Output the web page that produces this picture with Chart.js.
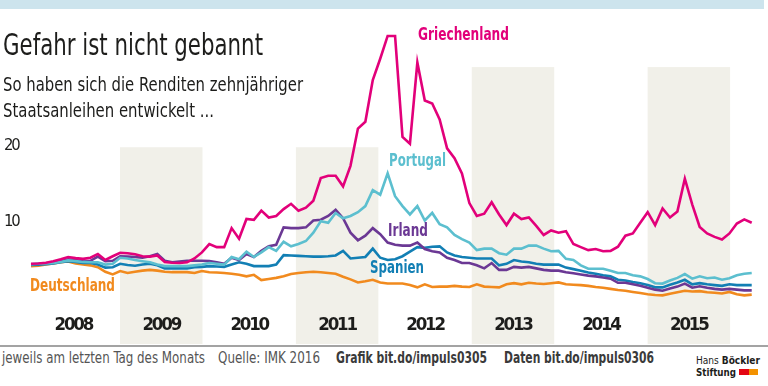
<!DOCTYPE html>
<html><head><meta charset="utf-8">
<script src="https://cdn.jsdelivr.net/npm/chart.js@4.4.1/dist/chart.umd.min.js"></script>
<style>
html,body{margin:0;padding:0;background:#fff;}
#wrap{position:relative;width:768px;height:386px;overflow:hidden;background:#fff;}
#chart{position:absolute;left:0;top:0;}
#topbar{position:absolute;left:0;top:0;width:764px;height:9px;background:#cde4ed;}
#sep{position:absolute;left:0;top:345px;width:768px;height:2px;background:#a3a3a3;}
.t{position:absolute;white-space:nowrap;line-height:1;transform-origin:0 0;margin:0;padding:0;}
.sq{position:absolute;top:369px;height:6px;width:10px;}
</style></head>
<body><div id="wrap">
<canvas id="chart" width="768" height="345"></canvas>
<div id="topbar"></div>
<div id="sep"></div>

<div class="t" data-x="3" data-b="55" data-w="260" data-s="31" data-wt="400" style="color:#1d1d1b">Gefahr ist nicht gebannt</div>
<div class="t" data-x="3" data-b="91" data-w="300" data-s="20" data-wt="400" style="color:#1d1d1b">So haben sich die Renditen zehnjähriger</div>
<div class="t" data-x="3" data-b="117" data-w="211" data-s="20" data-wt="400" style="color:#1d1d1b">Staatsanleihen entwickelt ...</div>

<div class="t" data-x="418" data-b="40" data-w="91" data-s="18" data-wt="700" style="color:#e2007a">Griechenland</div>
<div class="t" data-x="389" data-b="166.5" data-w="57" data-s="18" data-wt="700" style="color:#5cbfcf">Portugal</div>
<div class="t" data-x="388" data-b="236.5" data-w="40" data-s="18" data-wt="700" style="color:#6b3894">Irland</div>
<div class="t" data-x="370" data-b="273.5" data-w="54" data-s="18" data-wt="700" style="color:#127fb4">Spanien</div>
<div class="t" data-x="30" data-b="291.5" data-w="85" data-s="18" data-wt="700" style="color:#f18a1e">Deutschland</div>

<div class="t" data-x="2" data-b="363.5" data-w="203" data-s="15.5" data-wt="400" style="color:#555">jeweils am letzten Tag des Monats</div>
<div class="t" data-x="218" data-b="363.5" data-w="102" data-s="15.5" data-wt="400" style="color:#555">Quelle: IMK 2016</div>
<div class="t" data-x="336" data-b="363.5" data-w="151" data-s="15.5" data-wt="700" style="color:#3a3a3a">Grafik bit.do/impuls0305</div>
<div class="t" data-x="504" data-b="363.5" data-w="150" data-s="15.5" data-wt="700" style="color:#3a3a3a">Daten bit.do/impuls0306</div>

<div class="t" data-x="696" data-b="363.5" data-w="64" data-s="11" data-wt="400" style="color:#1d1d1b">Hans <b>Böckler</b></div>
<div class="t" data-x="696" data-b="375.5" data-w="40" data-s="11" data-wt="700" style="color:#1d1d1b">Stiftung</div>
<div class="sq" style="left:739px;background:#e30613"></div>
<div class="sq" style="left:749px;width:9px;background:#f39200"></div>
</div>
<script>
// ---------- data ----------
const startYear = 2008;                       // first month = Jan 2008, monthly values
const years = ['2008','2009','2010','2011','2012','2013','2014','2015'];
const shadedYears = ['2009','2011','2013','2015'];
const yTickValues = [10, 20];

const griechenland = [4.5,4.55,4.65,4.85,5.1,5.4,5.25,5.15,5.3,5.8,5.0,5.5,
  5.95,5.9,5.75,5.5,5.45,5.6,4.75,4.65,4.6,4.7,5.2,6.0,
  7.1,6.7,6.7,9.2,7.8,10.4,10.3,11.5,10.6,10.8,11.7,12.4,
  11.5,11.9,12.8,15.8,16.1,16.1,14.7,17.4,22.3,23.2,28.7,31.5,
  34.5,34.5,21.2,20.3,31.0,26.0,25.6,23.5,19.7,18.4,16.4,12.5,
  10.8,11.1,12.6,11.0,9.6,11.1,10.4,10.6,9.5,8.3,8.9,8.6,
  8.8,7.1,6.7,6.3,6.45,6.15,6.2,6.75,8.2,8.5,9.9,11.3,
  9.6,11.8,10.6,11.4,15.7,12.3,9.35,8.5,8.05,7.7,8.5,9.8,
  10.35,9.9];
const portugal = [4.45,4.5,4.55,4.6,4.75,4.95,4.85,4.75,4.7,4.7,4.4,4.5,
  5.3,5.2,5.0,4.85,4.7,4.4,4.2,4.2,4.2,4.2,4.3,4.4,
  4.6,4.5,4.4,5.4,5.1,6.1,5.4,6.0,6.7,6.2,7.4,6.8,
  7.1,7.5,8.6,10.1,9.9,11.2,10.5,10.8,11.3,12.1,14.2,13.6,
  16.4,13.4,12.1,11.0,12.1,10.2,11.2,9.7,9.3,8.3,7.75,7.3,
  6.3,6.5,6.5,5.9,5.7,6.5,6.5,6.9,6.9,6.5,6.15,6.2,
  5.15,5.0,4.3,3.85,3.85,3.85,3.6,3.3,3.3,3.0,2.85,2.5,
  1.95,1.9,2.3,2.65,3.15,2.55,2.85,2.6,2.7,2.4,2.6,3.0,
  3.2,3.3];
const irland = [4.45,4.5,4.55,4.7,4.85,5.1,5.0,4.85,4.9,5.45,4.85,4.9,
  5.5,5.45,5.4,5.3,5.5,5.8,4.9,4.7,4.8,4.9,4.9,4.9,
  4.85,4.7,4.5,5.3,5.0,5.8,5.4,6.2,6.8,7.0,9.3,9.2,
  9.2,9.3,10.2,10.3,10.8,11.6,10.5,8.6,7.6,8.2,9.2,8.4,
  7.3,7.0,6.9,6.9,7.3,6.45,6.15,6.0,5.3,5.0,4.6,4.6,
  4.3,3.9,4.6,3.7,3.7,4.1,4.0,4.1,3.9,3.7,3.6,3.6,
  3.4,3.25,3.1,2.95,2.85,2.7,2.55,2.0,2.0,1.8,1.6,1.35,
  1.1,0.95,1.25,1.5,1.9,1.35,1.55,1.35,1.2,1.1,1.2,1.1,
  1.0,1.0];
const spanien = [4.35,4.4,4.45,4.55,4.7,4.85,4.75,4.6,4.6,4.4,4.0,4.05,
  4.5,4.35,4.25,4.4,4.5,4.3,3.9,3.9,3.9,3.9,4.05,4.1,
  4.2,4.15,4.1,4.4,4.7,4.5,4.2,4.2,4.2,4.4,5.65,5.6,
  5.55,5.5,5.45,5.45,5.5,5.6,6.2,5.2,5.3,5.4,6.5,5.3,
  5.0,5.1,5.5,6.1,6.7,6.6,6.75,6.8,6.0,5.6,5.4,5.3,
  5.2,5.2,5.2,4.3,4.5,5.0,4.8,4.7,4.5,4.4,4.4,4.4,
  4.0,3.8,3.6,3.35,3.2,3.0,2.85,2.4,2.3,2.1,1.95,1.7,
  1.4,1.4,1.75,2.05,2.4,1.8,1.95,1.8,1.7,1.6,1.8,1.7,
  1.7,1.7];
const deutschland = [4.2,4.25,4.4,4.55,4.7,4.8,4.55,4.4,4.3,4.05,3.45,3.1,
  3.55,3.3,3.45,3.6,3.7,3.6,3.45,3.4,3.4,3.4,3.3,3.55,
  3.4,3.35,3.3,3.2,3.05,2.85,3.05,2.35,2.5,2.65,2.85,3.15,
  3.3,3.4,3.45,3.4,3.3,3.2,2.8,2.45,2.05,2.2,2.4,2.05,
  1.9,1.9,1.9,1.7,1.4,1.8,1.45,1.5,1.5,1.6,1.5,1.45,
  1.8,1.5,1.45,1.4,1.8,1.95,1.8,2.0,1.9,1.85,1.95,2.05,
  1.8,1.75,1.7,1.6,1.45,1.35,1.2,1.05,0.95,0.8,0.65,0.5,
  0.4,0.35,0.55,0.75,0.95,0.85,0.9,0.75,0.7,0.6,0.8,0.5,
  0.35,0.45];

// ---------- styling / layout ----------
const FAM = "'Liberation Sans Narrow','DejaVu Sans Condensed','Roboto Condensed','Arial Narrow','Liberation Sans',sans-serif";
const PX0 = 31, PXM = 7.43;               // pixel of first month, pixels per month
const YEAR_SPAN = 11.835, YEAR_OFF = 0.145, BAND_W = 11.1;
const yearStart = k => YEAR_OFF + YEAR_SPAN * k;

const mctx = document.createElement('canvas').getContext('2d');
function spacingFor(text, weight, size, target){
  mctx.font = weight + ' ' + size + 'px ' + FAM;
  const w = mctx.measureText(text).width;
  return Math.max(-2.2, Math.min(0, (target - w) / text.length));
}
const YEAR_SIZE = 18.5, YTICK_SIZE = 16.5;
const yearSpacing = spacingFor('2008', 'bold', YEAR_SIZE, 35);
const yTickSpacing = spacingFor('20', 'normal', YTICK_SIZE, 12.5);

// html texts
document.querySelectorAll('.t').forEach(el => {
  const s = +el.dataset.s, wt = el.dataset.wt;
  el.style.fontFamily = FAM; el.style.fontSize = s + 'px'; el.style.fontWeight = wt;
  el.style.left = el.dataset.x + 'px';
  mctx.font = wt + ' ' + s + 'px ' + FAM;
  const m = mctx.measureText(el.textContent);
  const A = m.fontBoundingBoxAscent, D = m.fontBoundingBoxDescent;
  el.style.top = (+el.dataset.b - ((s - (A + D)) / 2 + A)) + 'px';
  const w0 = el.getBoundingClientRect().width;
  if (w0 > 0) el.style.transform = 'scaleX(' + (+el.dataset.w / w0) + ')';
});

const toPts = arr => arr.map((v, i) => ({x: i, y: v}));
const ds = (label, data, color) => ({label, data: toPts(data), borderColor: color, borderWidth: 2.6,
  pointRadius: 0, fill: false, tension: 0});

function wrapLabels(scale, sp){
  if (scale._lsWrapped) return;
  const orig = scale.drawLabels.bind(scale);
  scale.drawLabels = function(area){
    const c = this.ctx; const prev = c.letterSpacing;
    c.letterSpacing = sp + 'px'; orig(area); c.letterSpacing = prev || '0px';
  };
  scale._lsWrapped = true;
}

const bandPlugin = {
  id: 'bands',
  beforeDraw(chart, args, opts) {
    const {ctx, chartArea, scales: {x, y}} = chart;
    wrapLabels(x, yearSpacing); wrapLabels(y, yTickSpacing);
    ctx.save();
    ctx.fillStyle = opts.color;
    shadedYears.forEach(yr => {
      const k = years.indexOf(yr);
      const x0 = x.getPixelForValue(yearStart(k));
      const x1 = x.getPixelForValue(yearStart(k) + BAND_W);
      const top = y.getPixelForValue(k < 4 ? opts.topLow : opts.topHigh);
      ctx.fillRect(x0, top, x1 - x0, chartArea.bottom + opts.extend - top);
    });
    ctx.restore();
  }
};

new Chart(document.getElementById('chart'), {
  type: 'line',
  data: { datasets: [
    ds('Griechenland', griechenland, '#e2007a'),
    ds('Portugal', portugal, '#5cbfcf'),
    ds('Irland', irland, '#6b3894'),
    ds('Spanien', spanien, '#127fb4'),
    ds('Deutschland', deutschland, '#f18a1e')
  ]},
  options: {
    responsive: false, animation: false, devicePixelRatio: 1,
    layout: { padding: { top: 10, left: 0, right: 0, bottom: 0 } },
    plugins: { legend: { display: false }, tooltip: { enabled: false },
      bands: { color: '#f1f0e9', topLow: 19.85, topHigh: 30.4, extend: 46 } },
    scales: {
      x: {
        type: 'linear', min: -PX0 / PXM, max: (768 - PX0) / PXM,
        grid: { display: false, drawTicks: false }, border: { display: false },
        afterBuildTicks: s => { s.ticks = years.map((_, k) => ({ value: yearStart(k) + BAND_W / 2 })); },
        afterFit: s => { s.height = 47; },
        ticks: { autoSkip: false, maxRotation: 0, padding: 16.5, color: '#1d1d1b',
          font: { family: FAM, size: YEAR_SIZE, weight: 'bold' },
          callback: (v, i) => years[i] }
      },
      y: {
        min: 0, max: (298 - 10) / 7.7,
        grid: { display: false, drawTicks: false }, border: { display: false },
        afterBuildTicks: s => { s.ticks = yTickValues.map(v => ({ value: v })); },
        afterFit: s => { s.width = 0; },
        ticks: { mirror: true, padding: 4, color: '#1d1d1b',
          font: { family: FAM, size: YTICK_SIZE }, callback: v => String(v) }
      }
    }
  },
  plugins: [bandPlugin]
});
</script>
</body></html>
